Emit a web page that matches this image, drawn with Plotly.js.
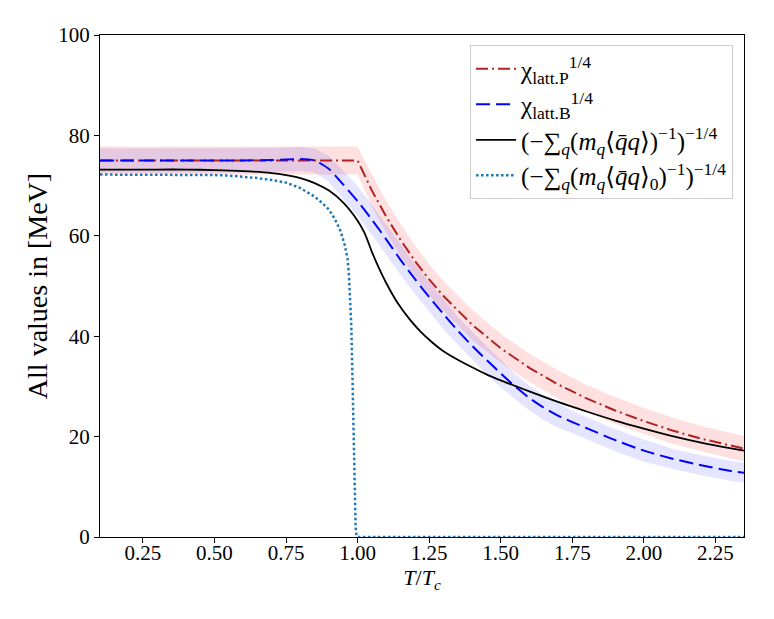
<!DOCTYPE html>
<html>
<head>
<meta charset="utf-8">
<script src="https://cdn.plot.ly/plotly-3.0.1.min.js"></script>
<style>
  html, body { margin: 0; padding: 0; background: #ffffff; }
  #chart { width: 774px; height: 619px; }
</style>
</head>
<body>
<div id="chart"></div>
<script>
// ---- data (T/Tc vs MeV) ----
const tP = [0.1, 0.2, 0.3, 0.4, 0.5, 0.6, 0.7, 0.8, 0.9, 1.0, 1.05, 1.1, 1.15, 1.2, 1.25, 1.3, 1.4, 1.5, 1.6, 1.7, 1.8, 1.9, 2.0, 2.1, 2.2, 2.3, 2.35];
const chiP = [75, 75, 75, 75, 75, 75, 75, 75, 75, 75, 69.0, 63.8, 59.2, 55.0, 51.3, 48.0, 42.3, 37.6, 33.7, 30.4, 27.6, 25.2, 23.1, 21.2, 19.6, 18.2, 17.6];
const chiPHi = [77.8, 77.8, 77.8, 77.8, 77.8, 77.8, 77.8, 77.8, 77.8, 77.8, 72.2, 67.0, 62.4, 58.1, 54.4, 51.0, 45.3, 40.5, 36.5, 33.2, 30.3, 27.9, 25.7, 23.8, 22.1, 20.7, 20.1];
const chiPLo = [72.2, 72.2, 72.2, 72.2, 72.2, 72.2, 72.2, 72.2, 72.2, 72.2, 65.8, 60.6, 56.0, 51.9, 48.2, 45.0, 39.3, 34.7, 30.9, 27.6, 24.9, 22.5, 20.5, 18.6, 17.1, 15.7, 15.1];

const tB = [0.1, 0.2, 0.3, 0.4, 0.5, 0.6, 0.7, 0.75, 0.8, 0.85, 0.9, 0.95, 1.0, 1.05, 1.1, 1.15, 1.2, 1.25, 1.3, 1.35, 1.4, 1.45, 1.5, 1.55, 1.6, 1.65, 1.7, 1.75, 1.8, 1.9, 2.0, 2.1, 2.2, 2.3, 2.35];
const chiB = [75.0, 75.0, 75.0, 75.0, 75.0, 75.0, 75.1, 75.2, 75.3, 75.0, 73.3, 70.2, 66.9, 63.2, 59.3, 55.2, 51.4, 47.8, 44.4, 41.1, 38.1, 35.3, 32.6, 30.0, 27.7, 25.8, 24.2, 22.9, 21.7, 19.3, 17.2, 15.6, 14.3, 13.2, 12.8];
const chiBHi = [77.4, 77.4, 77.4, 77.4, 77.4, 77.4, 77.5, 77.6, 77.7, 77.4, 75.9, 73.0, 69.9, 66.2, 62.3, 58.2, 54.4, 50.8, 47.4, 43.9, 40.9, 38.1, 35.4, 32.5, 30.2, 28.3, 26.7, 25.1, 23.9, 21.5, 19.4, 17.6, 16.3, 15.2, 14.8];
const chiBLo = [72.6, 72.6, 72.6, 72.6, 72.6, 72.6, 72.7, 72.8, 72.9, 72.6, 70.7, 67.4, 63.9, 60.2, 56.3, 52.2, 48.4, 44.8, 41.4, 38.3, 35.3, 32.5, 29.8, 27.5, 25.2, 23.3, 21.7, 20.7, 19.5, 17.1, 15.0, 13.6, 12.3, 11.2, 10.8];

const tCond = [0.1, 0.2, 0.3, 0.4, 0.5, 0.6, 0.7, 0.75, 0.8, 0.85, 0.9, 0.95, 1.0, 1.025, 1.05, 1.075, 1.1, 1.14, 1.18, 1.22, 1.26, 1.3, 1.35, 1.4, 1.45, 1.5, 1.55, 1.6, 1.7, 1.8, 1.9, 2.0, 2.1, 2.2, 2.3, 2.35];
const cond = [73.2, 73.2, 73.2, 73.2, 73.1, 72.9, 72.5, 72.1, 71.5, 70.5, 69.0, 66.6, 63.0, 60.5, 56.8, 53.5, 50.6, 46.6, 43.5, 40.9, 38.8, 37.0, 35.3, 33.8, 32.4, 31.2, 30.1, 29.0, 26.9, 25.0, 23.2, 21.6, 20.1, 18.8, 17.7, 17.2];

const tCond0 = [0.1, 0.3, 0.4, 0.5, 0.55, 0.6, 0.65, 0.7, 0.75, 0.8, 0.85, 0.875, 0.9, 0.92, 0.94, 0.955, 0.965, 0.97, 0.975, 0.978, 0.982, 0.986, 0.99, 0.993, 0.996, 1.0, 2.35];
const cond0 = [72.2, 72.2, 72.2, 72.1, 72.0, 71.8, 71.5, 71.1, 70.6, 69.5, 67.8, 66.6, 65.2, 63.4, 61.0, 58.2, 55.4, 52.0, 47.0, 42.0, 32.0, 21.0, 9.0, 2.0, 0.3, 0, 0];

const xTicks = [0.25, 0.5, 0.75, 1.0, 1.25, 1.5, 1.75, 2.0, 2.25];
const yTicks = [0, 20, 40, 60, 80, 100];

const labels = [
  'χ<sub>latt.P</sub><sup>1/4</sup>',
  'χ<sub>latt.B</sub><sup>1/4</sup>',
  '(−∑<sub><i>q</i></sub>(<i>m</i><sub><i>q</i></sub>⟨<i>q̄q</i>⟩)<sup>−1</sup>)<sup>−1/4</sup>',
  '(−∑<sub><i>q</i></sub>(<i>m</i><sub><i>q</i></sub>⟨<i>q̄q</i>⟩<sub>0</sub>)<sup>−1</sup>)<sup>−1/4</sup>'
];

const FONT = 'Liberation Serif, DejaVu Serif, serif';

// closed polygon for an error band
function band(x, hi, lo, color) {
  return {
    x: x.concat(x.slice().reverse()),
    y: hi.concat(lo.slice().reverse()),
    type: 'scatter', mode: 'lines', fill: 'toself',
    fillcolor: color, line: { width: 0 },
    hoverinfo: 'skip', showlegend: false
  };
}

const traces = [
  band(tP, chiPHi, chiPLo, 'rgba(255,0,0,0.12)'),
  band(tB, chiBHi, chiBLo, 'rgba(0,0,255,0.10)'),
  { x: tP, y: chiP, type: 'scatter', mode: 'lines', name: labels[0],
    line: { color: '#b22222', width: 2, dash: '12px,4px,2px,4px' } },
  { x: tB, y: chiB, type: 'scatter', mode: 'lines', name: labels[1],
    line: { color: '#0000ff', width: 2, dash: '14px,6px', shape: 'spline', smoothing: 0.6 } },
  { x: tCond, y: cond, type: 'scatter', mode: 'lines', name: labels[2],
    line: { color: '#000000', width: 1.8, shape: 'spline', smoothing: 0.6 } },
  { x: tCond0, y: cond0, type: 'scatter', mode: 'lines', name: labels[3],
    line: { color: '#1f77b4', width: 2.5, dash: '2.5px,2.5px' } }
];

const axisCommon = {
  showgrid: false, zeroline: false,
  showline: true, linecolor: '#000', linewidth: 1, mirror: true,
  ticks: 'outside', ticklen: 5, tickwidth: 1, tickcolor: '#000',
  tickfont: { family: FONT, size: 21, color: '#000' }
};

const layout = {
  width: 774, height: 619,
  margin: { l: 100, r: 30, t: 35, b: 82 },
  paper_bgcolor: '#fff', plot_bgcolor: '#fff',
  font: { family: FONT, color: '#000' },
  showlegend: true,
  legend: {
    x: 0.983, y: 0.98, xanchor: 'right', yanchor: 'top',
    bgcolor: 'rgba(255,255,255,0.9)', bordercolor: '#cccccc', borderwidth: 1,
    font: { family: FONT, size: 25, color: '#000' },
    itemwidth: 40, tracegroupgap: 0
  },
  xaxis: Object.assign({}, axisCommon, {
    range: [0.1, 2.35],
    tickvals: xTicks, tickformat: '.2f',
    ticklabelstandoff: -8,
    title: { text: '<i>T</i>/<i>T</i><sub><i>c</i></sub>', font: { family: FONT, size: 22 }, standoff: 4 }
  }),
  yaxis: Object.assign({}, axisCommon, {
    range: [0, 100],
    tickvals: yTicks,
    title: { text: 'All values in [MeV]', font: { family: FONT, size: 28 }, standoff: 2 }
  })
};

Plotly.newPlot('chart', traces, layout, { displayModeBar: false, staticPlot: true });
</script>
</body>
</html>
